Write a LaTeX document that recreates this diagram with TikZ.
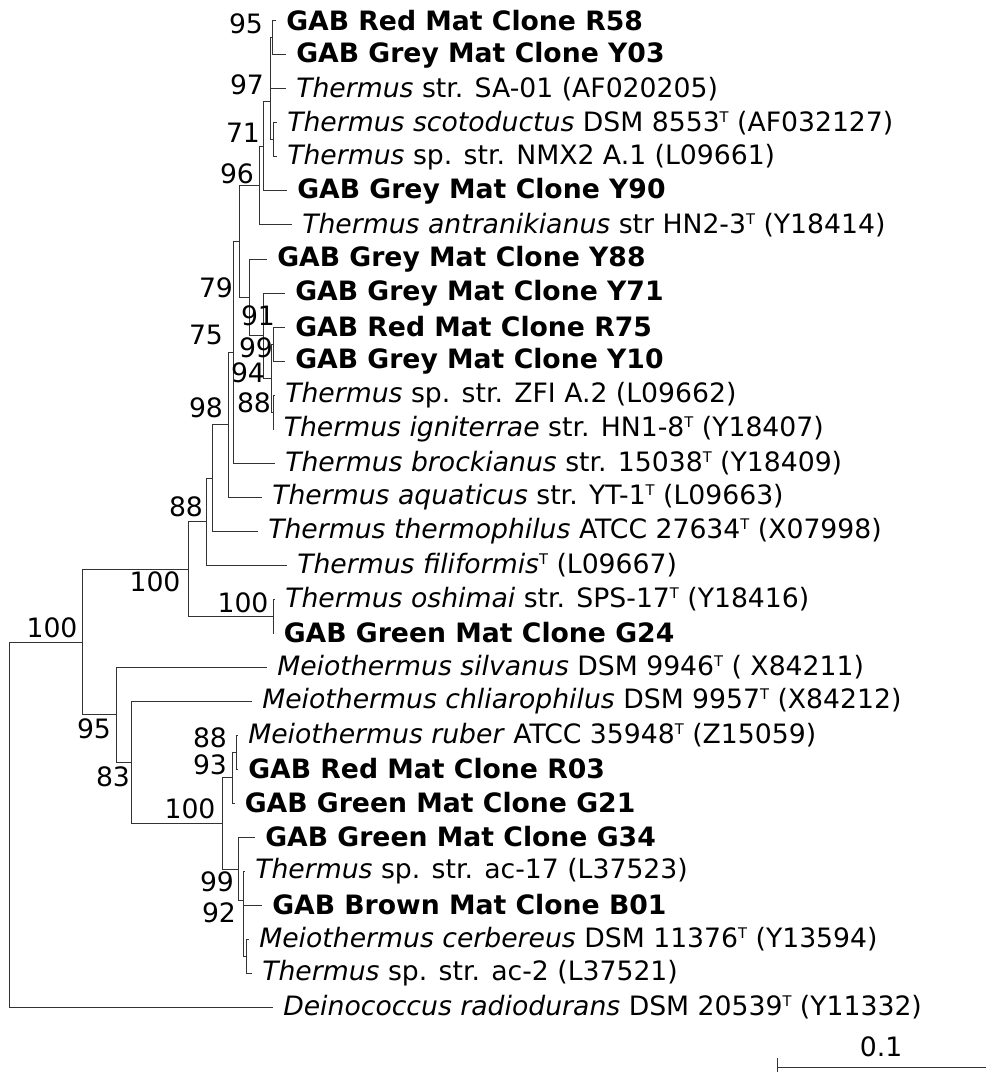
\documentclass[tikz,border=0pt]{standalone}
\usepackage{fontspec}
\setmainfont{DejaVu Sans}
\usepackage{tikz}
\newcommand\tsup{\raisebox{0.6ex}{\fontsize{11}{11}\selectfont T}}

\begin{document}
\begin{tikzpicture}[x=0.75pt,y=-0.75pt,font=\fontsize{20}{24}\selectfont,
   lf/.style={anchor=west,inner sep=0pt,xshift=7.5pt},
   bs/.style={inner sep=0pt},
   br/.style={line width=0.75pt,black!80}]
  \useasboundingbox (0,0) rectangle (992,1073);
  % leaves: tip end and label
  \foreach \i/\x/\txt in {
     1/276/{\textbf{GAB Red Mat Clone R58}},
     2/286/{\textbf{GAB Grey Mat Clone Y03}},
     3/286/{\textit{Thermus} str. SA-01 (AF020205)},
     4/277/{\textit{Thermus scotoductus} DSM 8553\tsup{} (AF032127)},
     5/277/{\textit{Thermus} sp. str. NMX2 A.1 (L09661)},
     6/287/{\textbf{GAB Grey Mat Clone Y90}},
     7/292/{\textit{Thermus antranikianus} str HN2-3\tsup{} (Y18414)},
     8/267/{\textbf{GAB Grey Mat Clone Y88}},
     9/285/{\textbf{GAB Grey Mat Clone Y71}},
     10/285/{\textbf{GAB Red Mat Clone R75}},
     11/285/{\textbf{GAB Grey Mat Clone Y10}},
     12/275/{\textit{Thermus} sp. str. ZFI A.2 (L09662)},
     13/273.5/{\textit{Thermus igniterrae} str. HN1-8\tsup{} (Y18407)},
     14/275/{\textit{Thermus brockianus} str. 15038\tsup{} (Y18409)},
     15/262/{\textit{Thermus aquaticus} str. YT-1\tsup{} (L09663)},
     16/258/{\textit{Thermus thermophilus} ATCC 27634\tsup{} (X07998)},
     17/287/{\textit{Thermus filiformis}\tsup{} (L09667)},
     18/275/{\textit{Thermus oshimai} str. SPS-17\tsup{} (Y18416)},
     19/273.5/{\textbf{GAB Green Mat Clone G24}},
     20/267/{\textit{Meiothermus silvanus} DSM 9946\tsup{} ( X84211)},
     21/252/{\textit{Meiothermus chliarophilus} DSM 9957\tsup{} (X84212)},
     22/238/{\textit{Meiothermus ruber} ATCC 35948\tsup{} (Z15059)},
     23/238/{\textbf{GAB Red Mat Clone R03}},
     24/234.5/{\textbf{GAB Green Mat Clone G21}},
     25/255/{\textbf{GAB Green Mat Clone G34}},
     26/245/{\textit{Thermus} sp. str. ac-17 (L37523)},
     27/262/{\textbf{GAB Brown Mat Clone B01}},
     28/249/{\textit{Meiothermus cerbereus} DSM 11376\tsup{} (Y13594)},
     29/252/{\textit{Thermus} sp. str. ac-2 (L37521)},
     30/273/{\textit{Deinococcus radiodurans} DSM 20539\tsup{} (Y11332)}}
  {
     \coordinate (l\i) at (\x,{21+34*(\i-1)});
     \node[lf] (t\i) at (l\i) {\txt};
  }
  % internal nodes
  \coordinate (nA) at (272,38);
  \coordinate (nB) at (270.7,63.5);
  \coordinate (nD) at (273,140);
  \coordinate (nC) at (270,102);
  \coordinate (nC2) at (263,146.5);
  \coordinate (nE) at (259,186);
  \coordinate (nEe) at (273,344);
  \coordinate (nF) at (273,412);
  \coordinate (nG) at (271.5,378);
  \coordinate (nH) at (263,335.5);
  \coordinate (nI) at (249.3,297);
  \coordinate (nJ) at (239,241.5);
  \coordinate (nK) at (233,352);
  \coordinate (nL) at (228,424.5);
  \coordinate (nM) at (212,478);
  \coordinate (nN) at (206,521.5);
  \coordinate (nO) at (273,616);
  \coordinate (nN2) at (188,569);
  \coordinate (nT) at (236,752);
  \coordinate (nU) at (232,777.5);
  \coordinate (nX) at (246,956);
  \coordinate (nY) at (243.5,930.5);
  \coordinate (nW) at (243,900.5);
  \coordinate (nV) at (238,869);
  \coordinate (nS) at (222.5,823);
  \coordinate (nR) at (131.5,762);
  \coordinate (nQ) at (116,714.5);
  \coordinate (nP) at (82,642);
  \coordinate (root) at (9,824.5);
  % branches
  \foreach \p/\c in {nA/l1,nA/l2,nB/nA,nB/l3,nD/l4,nD/l5,nC/nB,nC/nD,
     nC2/nC,nC2/l6,nE/nC2,nE/l7,nEe/l10,nEe/l11,nF/l12,nF/l13,nG/nEe,nG/nF,
     nH/l9,nH/nG,nI/l8,nI/nH,nJ/nE,nJ/nI,nK/nJ,nK/l14,nL/nK,nL/l15,
     nM/nL,nM/l16,nN/nM,nN/l17,nO/l18,nO/l19,nN2/nN,nN2/nO,
     nT/l22,nT/l23,nU/nT,nU/l24,nX/l28,nX/l29,nY/l27,nY/nX,nW/l26,nW/nY,
     nV/l25,nV/nW,nS/nU,nS/nV,nR/l21,nR/nS,nQ/l20,nQ/nR,nP/nN2,nP/nQ,
     root/nP,root/l30}
     \draw[br] (\p) |- (\c);
  % bootstrap values
  \node[bs] (bA) at (246,24) {95};
  \node[bs] (bC) at (247,85) {97};
  \node[bs] (bD) at (243,133) {71};
  \node[bs] (bE) at (237,174) {96};
  \node[bs] (bI) at (216,288) {79};
  \node[bs] (bJ) at (206,335) {75};
  \node[bs] (bH) at (258,316) {91};
  \node[bs] (bEe) at (256,348) {99};
  \node[bs] (bG) at (248,373) {94};
  \node[bs] (bF) at (254,403) {88};
  \node[bs] (bK) at (206,408) {98};
  \node[bs] (bM) at (186,507) {88};
  \node[bs] (bN2) at (155,582) {100};
  \node[bs] (bO) at (243,603) {100};
  \node[bs] (bP) at (52,628) {100};
  \node[bs] (bQ) at (94,729) {95};
  \node[bs] (bR) at (113,777) {83};
  \node[bs] (bT) at (210,738) {88};
  \node[bs] (bU) at (210,765) {93};
  \node[bs] (bS) at (190,809) {100};
  \node[bs] (bW) at (217,882) {99};
  \node[bs] (bY) at (219,913) {92};
  % scale bar
  \coordinate (sb0) at (777,1067);
  \coordinate (sb1) at (986,1067);
  \draw[br] (sb0) -- (sb1) (sb0) ++(0,-9) -- ++(0,14);
  \node[bs] (sbl) at (881,1047) {0.1};
\end{tikzpicture}
\end{document}
